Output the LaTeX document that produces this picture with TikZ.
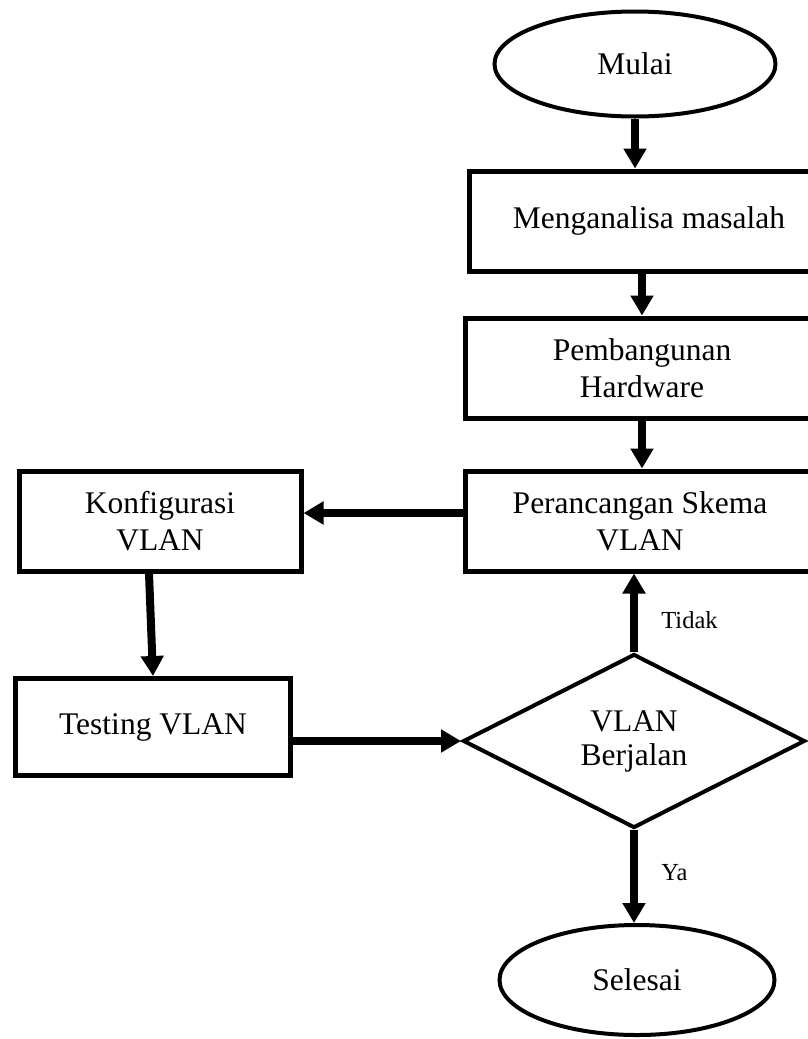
\documentclass[tikz,border=0pt]{standalone}
\usepackage{fontspec}
\setmainfont{Liberation Serif}
\usetikzlibrary{arrows.meta,shapes.geometric}

\begin{document}
\begin{tikzpicture}[x=1pt, y=-1pt,
    terminal/.style={ellipse, draw=black, line width=4pt, inner sep=0pt,
        minimum width=281pt, minimum height=105pt, font=\fontsize{31.5}{37}\selectfont},
    process/.style={rectangle, draw=black, line width=5pt, align=center,
        minimum height=100pt, font=\fontsize{31.5}{37}\selectfont},
    decision/.style={diamond, draw=black, line width=4pt, inner sep=0pt, aspect=1.94,
        minimum width=342pt, minimum height=174pt, align=center,
        font=\fontsize{31.5}{34}\selectfont},
    flow/.style={line width=8pt, -{Triangle[width=22pt,length=20pt]}},
    answer/.style={font=\fontsize{24.5}{28}\selectfont, right=20pt}
]
    \useasboundingbox (0,0) rectangle (808,1039);
    \clip (0,0) rectangle (808,1039);

    \node[terminal] (mulai) at (635,64) {Mulai};
    \node[process, minimum width=360pt] (analisa) at (649,221) {Menganalisa masalah};
    \node[process, minimum width=354pt] (bangun) at (642,368) {Pembangunan\\Hardware};
    \node[process, minimum width=350pt] (rancang) at (640,521) {Perancangan Skema\\VLAN};
    \node[process, minimum width=282pt] (konfig) at (160,521) {Konfigurasi\\VLAN};
    \node[process, minimum width=275pt, minimum height=97pt] (testing) at (153,727) {Testing VLAN};
    \node[decision] (cek) at (634,741) {VLAN\\Berjalan};
    \node[terminal, minimum width=275pt, minimum height=110pt] (selesai) at (637,980) {Selesai};

    \draw[flow] (mulai.south) -- (mulai.south |- analisa.north);
    \draw[flow] (analisa.south -| 642,0) -- (bangun.north -| 642,0);
    \draw[flow] (bangun.south) -- (bangun.south |- rancang.north);
    \draw[flow] (rancang.west |- 0,513) -- (konfig.east |- 0,513);
    \draw[flow] (konfig.south -| 149,0) -- (testing.north);
    \draw[flow] (testing.east |- cek.west) -- (cek.west);
    \draw[flow] (cek.north) -- (cek.north |- rancang.south) node[answer, pos=.4] {Tidak};
    \draw[flow] (cek.south) -- (cek.south |- selesai.north) node[answer, pos=.46] {Ya};
\end{tikzpicture}
\end{document}
